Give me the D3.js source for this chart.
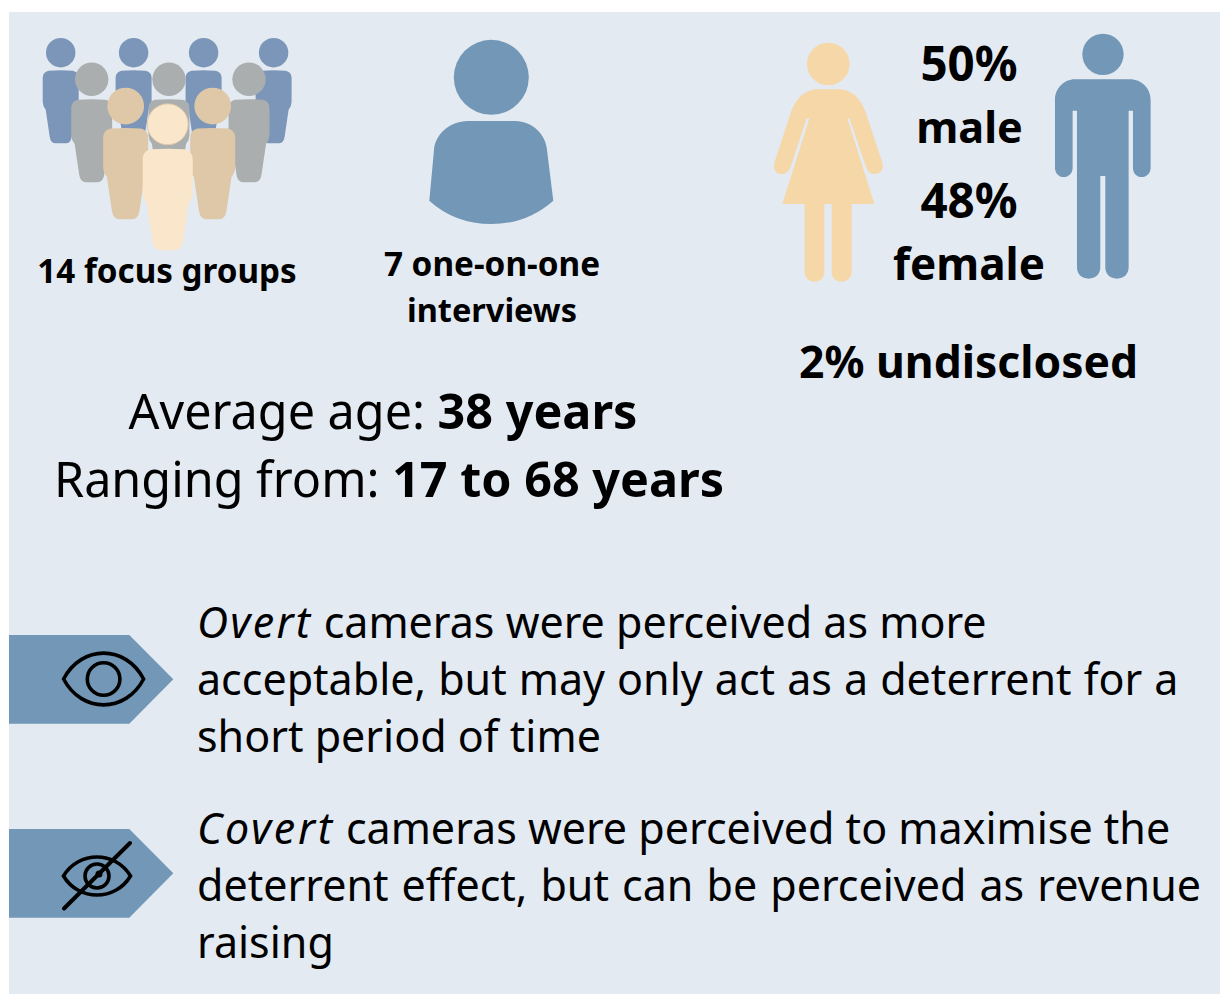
<!DOCTYPE html>
<html>
<head>
<meta charset="utf-8">
<script src="https://cdn.jsdelivr.net/npm/d3@7"></script>
<style>
  html, body { margin: 0; padding: 0; background: #fff; }
  svg { display: block; }
  text { font-family: "Noto Sans", sans-serif; fill: #000; }
</style>
</head>
<body>
<div id="chart"></div>
<script>
// values
var focusGroups = 14;
var interviews = 7;
var genderShares = [50, 48, 2];
var genderNames = ["male", "female", "undisclosed"];
var ageAverage = 38;
var ageRange = [17, 68];
var overtLines = ["cameras were perceived as more", "acceptable, but may only act as a deterrent for a", "short period of time"];
var covertLines = ["cameras were perceived to maximise the", "deterrent effect, but can be perceived as revenue", "raising"];
var crowdRows = ["back", "middle", "front", "centre"];

var width = 1220, height = 994;

var svg = d3.select("#chart").append("svg")
    .attr("width", width)
    .attr("height", height);

svg.append("rect")
    .attr("x", 9).attr("y", 12)
    .attr("width", width - 9).attr("height", height - 12)
    .attr("fill", "#e3eaf2");

// crowd icon
var personBody = "M-12,18Q0,17 12,18C16,19 18,21 18,26L18,49Q18,53 15,57L11,84Q10,90.6 5,90.6L-5,90.6Q-10,90.6 -11,84L-15,57Q-18,53 -18,49L-18,26C-18,21 -16,19 -12,18Z";
var rowStyle = {
    back: { xs: [60.7, 133.6, 203.6, 273.6], y: 52.7, k: 1, fill: "#7b96b8" },
    middle: { xs: [91.7, 169, 249], y: 79.3, k: 1.136, fill: "#aaaeae" },
    front: { xs: [125.7, 212.7], y: 106, k: 1.25, fill: "#dfc8a8" },
    centre: { xs: [167.7], y: 124.3, k: 1.39, fill: "#fae7cb" }
};
var crowd = svg.append("g");
crowdRows.forEach(function(row) {
    var s = rowStyle[row];
    s.xs.forEach(function(x) {
        var g = crowd.append("g")
            .attr("transform", "translate(" + x + "," + s.y + ") scale(" + s.k + ")")
            .attr("fill", s.fill);
        g.append("circle").attr("r", 14.7)
            .attr("stroke", row == "centre" ? "#dfc8a8" : "none")
            .attr("stroke-width", row == "centre" ? 0.7 : 0);
        g.append("path").attr("d", personBody);
    });
});

// single person
var single = svg.append("g").attr("fill", "#7397b6");
single.append("circle").attr("cx", 491.3).attr("cy", 77.3).attr("r", 37.5);
single.append("path")
    .attr("d", "M468,121L515,121C533,121 546,135 547,150L553.3,200.7Q527,224 491.3,224Q455,224 429.3,200.7L434,150C435,135 449,121 468,121Z");

// female and male signs, traced at 3x so they sit in a scaled group
var signs = svg.append("g").attr("transform", "translate(760,20) scale(0.3333)");
var female = signs.append("g").attr("fill", "#f6d7a7");
female.append("circle").attr("cx", 205).attr("cy", 132).attr("r", 64);
female.append("path")
    .attr("d", "M175,208L235,208C280,208 305,240 320,285L366,425C375,450 358,462 344,462C330,462 322,452 318,440L268,295L262,295L343,552L275,552L275,755C275,775 260,785 245,785C228,785 215,775 215,755L215,552L193,552L193,755C193,775 180,785 164,785C148,785 134,775 134,755L134,552L67,552L148,295L140,295L92,440C88,452 78,462 65,462C50,462 36,450 44,425L90,285C105,240 130,208 175,208Z");
var male = signs.append("g").attr("fill", "#7397b6");
male.append("circle").attr("cx", 1029).attr("cy", 103).attr("r", 62);
male.append("path")
    .attr("d", "M945,178L1110,178C1145,178 1172,205 1172,240L1172,443C1172,460 1160,471 1145,471C1130,471 1119,460 1119,443L1119,272L1106,272L1106,742C1106,762 1092,776 1071,776C1050,776 1036,762 1036,742L1036,468L1021,468L1021,742C1021,762 1007,776 986,776C965,776 951,762 951,742L951,272L938,272L938,443C938,460 926,471 911,471C897,471 885,460 885,443L885,240C885,205 912,178 945,178Z");

// headline labels
function label(x, y, size, str) {
    return svg.append("text")
        .attr("x", x).attr("y", y)
        .attr("text-anchor", "middle")
        .attr("font-size", size)
        .attr("font-weight", 700)
        .text(str);
}
label(167, 283, 33.2, focusGroups + " focus groups");
label(492, 276, 33.3, interviews + " one-on-one");
label(492, 322, 32.5, "interviews");
label(969, 81, 47.5, genderShares[0] + "%");
label(969.5, 143, 43.2, genderNames[0]);
label(969, 218, 47.5, genderShares[1] + "%");
label(969, 280, 44, genderNames[1]);
label(968.5, 378, 44.4, genderShares[2] + "% " + genderNames[2]);

function ageLine(x, y, lead, bold) {
    var t = svg.append("text")
        .attr("x", x).attr("y", y)
        .attr("text-anchor", "middle")
        .attr("font-size", 48.5);
    t.append("tspan").text(lead + " ");
    t.append("tspan").attr("font-weight", 700).text(bold);
}
ageLine(383, 428.7, "Average age:", ageAverage + " years");
ageLine(389, 496.7, "Ranging from:", ageRange[0] + " to " + ageRange[1] + " years");

// arrow tabs with eye icons
function tab(top) {
    var y = d3.scaleLinear().domain([0, 1]).range([top, top + 88.7]);
    var pts = [[9, y(0)], [129.3, y(0)], [173.3, y(0.5)], [129.3, y(1)], [9, y(1)]];
    svg.append("path").attr("d", d3.line()(pts) + "Z").attr("fill", "#7397b6");
}
tab(635);
tab(829);

function eye(cx, cy, rx, ry, r, sw) {
    var g = svg.append("g")
        .attr("fill", "none").attr("stroke", "#000")
        .attr("stroke-width", sw).attr("stroke-linecap", "round");
    g.append("path")
        .attr("d", "M" + (cx - rx) + "," + cy +
            "C" + (cx - rx * 0.55) + "," + (cy - ry * 1.3) + " " + (cx + rx * 0.55) + "," + (cy - ry * 1.3) + " " + (cx + rx) + "," + cy +
            "C" + (cx + rx * 0.55) + "," + (cy + ry * 1.3) + " " + (cx - rx * 0.55) + "," + (cy + ry * 1.3) + " " + (cx - rx) + "," + cy + "Z");
    g.append("circle").attr("cx", cx).attr("cy", cy).attr("r", r);
    return g;
}
eye(103.6, 679, 40, 26.5, 16.3, 3.6);
var hidden = eye(97, 876, 33.5, 19.5, 12, 3.6);
hidden.append("circle").attr("cx", 99).attr("cy", 874).attr("r", 3.5).attr("fill", "#000").attr("stroke", "none");
hidden.append("line")
    .attr("x1", 64).attr("y1", 908.5).attr("x2", 130).attr("y2", 843)
    .attr("stroke-width", 4);

// findings text
function finding(firstWord, lines, y0, gaps, italicGap) {
    lines.forEach(function(line, i) {
        var t = svg.append("text")
            .attr("x", 197).attr("y", y0 + i * 57)
            .attr("font-size", 43)
            .attr("word-spacing", gaps[i]);
        if (i == 0) {
            t.append("tspan").attr("font-style", "italic")
                .attr("letter-spacing", italicGap).text(firstWord);
            t.append("tspan").text(" ");
        }
        t.append("tspan").text(line);
    });
}
finding("Overt", overtLines, 637.6, [0, 0.9, 0], 2.3);
finding("Covert", covertLines, 843.6, [0, 1.9, 0], 2.7);
</script>
</body>
</html>
